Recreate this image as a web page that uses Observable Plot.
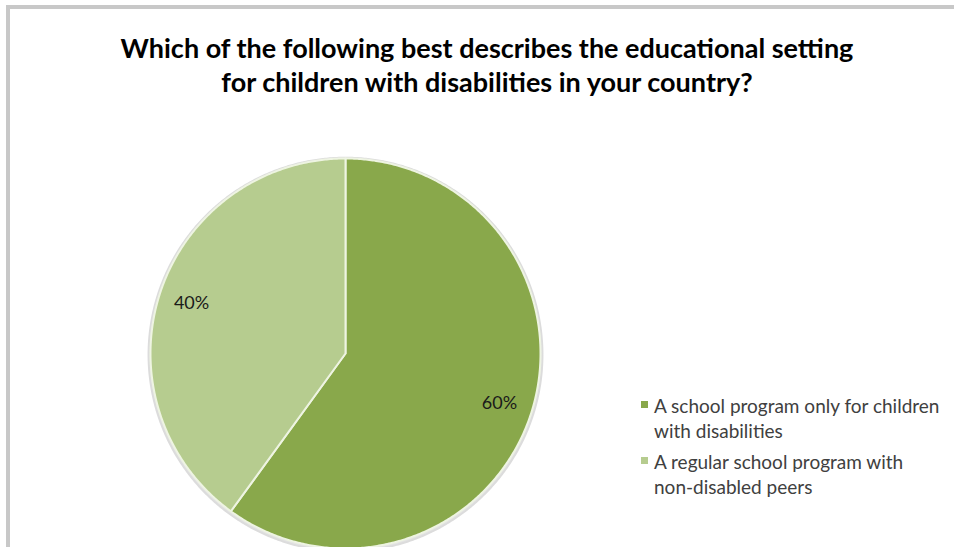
<!DOCTYPE html>
<html><head><meta charset="utf-8">
<script src="https://cdn.jsdelivr.net/npm/d3@7"></script>
<script src="https://cdn.jsdelivr.net/npm/@observablehq/plot@0.6"></script>
<style>
html,body{margin:0;padding:0;background:#fff;width:954px;height:547px;overflow:hidden;position:relative;}
#topbar{position:absolute;left:6px;top:5px;width:948px;height:4px;background:#c8c8c8;}
#leftbar{position:absolute;left:6px;top:5px;width:4px;height:542px;background:#c8c8c8;}
#title{position:absolute;left:0;top:31px;width:974px;text-align:center;font-family:Lato,sans-serif;font-weight:700;font-size:27px;line-height:34px;color:#000;}
#chart{position:absolute;left:0;top:120px;width:954px;height:427px;overflow:hidden;}
#legend{position:absolute;left:641px;top:393px;font-family:Lato,sans-serif;font-size:19px;line-height:25px;color:#404040;}
.item{position:relative;padding-left:13px;margin-bottom:6px;}
.sw{position:absolute;left:0;top:8px;width:7px;height:7px;}
</style></head><body>
<div id="topbar"></div>
<div id="leftbar"></div>
<div id="title">Which of the following best describes the educational setting<br>for children with disabilities in your country?</div>
<div id="chart"></div>
<div id="legend"></div>
<script>
const categories = ["A school program only for children with disabilities", "A regular school program with non-disabled peers"];
const legendLines = [["A school program only for children", "with disabilities"], ["A regular school program with", "non-disabled peers"]];
const values = [60, 40];
const colors = ["#89a84b", "#b6cc8f"];

const data = categories.map((c, i) => ({category: c, value: values[i]}));
const arcs = d3.pie().value(d => d.value).sort(null)(data);

// slice polygons in unit coordinates (y up), angles clockwise from 12 o'clock
const poly = [];
for (const a of arcs) {
  poly.push({category: a.data.category, x: 0, y: 0});
  const n = Math.ceil((a.endAngle - a.startAngle) / (Math.PI / 360));
  for (let k = 0; k <= n; k++) {
    const t = a.startAngle + (a.endAngle - a.startAngle) * k / n;
    poly.push({category: a.data.category, x: Math.sin(t), y: Math.cos(t)});
  }
  poly.push({category: a.data.category, x: 0, y: 0});
}
const shadow = d3.range(0, 721).map(k => {
  const t = k * Math.PI / 360;
  return {x: 1.01 * Math.sin(t), y: 1.01 * Math.cos(t) - 0.006};
});
const labels = arcs.map(a => {
  const m = (a.startAngle + a.endAngle) / 2;
  return {x: 0.83 * Math.sin(m), y: 0.83 * Math.cos(m), text: a.data.value + "%"};
});

const R = 195, cx = 345, cy = 233;
const plot = Plot.plot({
  width: 954, height: 427,
  margin: 0,
  x: {domain: [-1, 1], range: [cx - R, cx + R], axis: null},
  y: {domain: [-1, 1], range: [cy + R, cy - R], axis: null},
  color: {domain: categories, range: colors},
  marks: [
    Plot.line(shadow, {x: "x", y: "y", fill: "#e4e4e4", stroke: "#dcdcdc", strokeWidth: 2}),
    Plot.line(poly, {x: "x", y: "y", z: "category", fill: "category", stroke: "#eef4e2", strokeWidth: 2, strokeLinejoin: "round"}),
    Plot.text(labels, {x: "x", y: "y", text: "text", fill: "#1a1a1a", fontSize: 18, fontFamily: "Lato"})
  ]
});
plot.style.background = "transparent";
document.getElementById("chart").appendChild(plot);

const leg = document.getElementById("legend");
categories.forEach((c, i) => {
  const it = document.createElement("div");
  it.className = "item";
  const sw = document.createElement("span");
  sw.className = "sw";
  sw.style.background = colors[i];
  it.appendChild(sw);
  legendLines[i].forEach((l, j) => {
    const d = document.createElement("div");
    d.textContent = l;
    it.appendChild(d);
  });
  leg.appendChild(it);
});
</script>
</body></html>
